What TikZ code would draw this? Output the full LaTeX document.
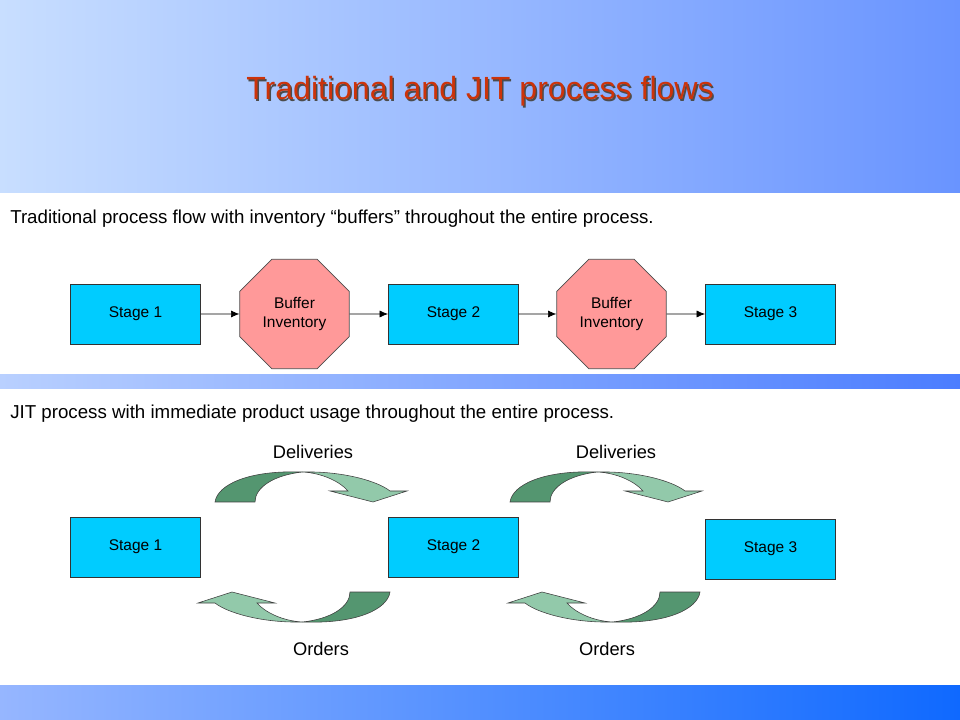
\documentclass[tikz,border=0pt]{standalone}
\usepackage{fontspec}
\setmainfont{Liberation Sans}
\usepackage{tikz}
\usetikzlibrary{shapes.geometric,arrows.meta}

\definecolor{titlered}{RGB}{204,51,10}
\definecolor{stagecyan}{RGB}{0,204,255}
\definecolor{bufferpink}{RGB}{255,153,153}
\definecolor{ribbondark}{RGB}{84,150,112}
\definecolor{ribbonlight}{RGB}{146,201,170}

% one curved ribbon arrow: #1 = centre, #2 = rotation
\newcommand{\jitribbon}[2]{%
	\begin{scope}[shift={#1}, rotate=#2]
		\filldraw[ribbon dark] (-87.5,-45) .. controls (-85,-62) and (-55,-77) .. (0,-75)
			.. controls (-28,-72) and (-47.5,-60) .. (-47.5,-45) -- cycle;
		\filldraw[ribbon light] (0,-75) .. controls (40,-76) and (75,-66) .. (87.5,-56)
			-- (104.5,-56) -- (70.5,-45) -- (27.5,-56) -- (45.5,-56)
			.. controls (38,-65) and (20,-74) .. (0,-75) -- cycle;
	\end{scope}}

\begin{document}
\begin{tikzpicture}[x=0.025cm, y=-0.025cm,
	stagebox/.style={draw=black!80, line width=0.6pt, fill=stagecyan, minimum width=3.25cm, minimum height=1.5cm, font=\fontsize{11}{13}\selectfont},
	buffer/.style={regular polygon, regular polygon sides=8, draw=black!70, line width=0.5pt, fill=bufferpink, minimum size=2.96cm, inner sep=0pt, align=center, font=\fontsize{11}{13}\selectfont},
	flow/.style={black, line width=0.5pt, -{Latex[length=6pt,width=5pt]}},
	caption/.style={anchor=base west, inner sep=0pt, font=\fontsize{13.3}{15}\selectfont},
	label/.style={anchor=base, inner sep=0pt, font=\fontsize{13}{15}\selectfont},
	ribbon dark/.style={fill=ribbondark, draw=black!75, line width=0.4pt},
	ribbon light/.style={fill=ribbonlight, draw=black!75, line width=0.4pt}]
	\useasboundingbox (0,0) rectangle (960,720);
	\fill[white] (0,0) rectangle (960,720);
	
	% bands
	\shade[left color={rgb,255:red,200;green,222;blue,255}, right color={rgb,255:red,105;green,148;blue,255}] (0,0) rectangle (960,193);
	\shade[left color={rgb,255:red,185;green,208;blue,255}, right color={rgb,255:red,75;green,125;blue,255}] (0,375) rectangle (960,389);
	\shade[left color={rgb,255:red,150;green,182;blue,255}, right color={rgb,255:red,15;green,105;blue,255}] (0,685) rectangle (960,720);
	
	% title
	\node[anchor=base, inner sep=0pt, text=black!70, font=\fontsize{22.8}{27}\selectfont] (titleshadow) at (481.5,101.5) {Traditional and JIT process flows};
	\node[anchor=base, inner sep=0pt, text=titlered, font=\fontsize{22.8}{27}\selectfont] (title) at (480,100) {Traditional and JIT process flows};
	
	% traditional flow
	\node[caption] (tradtext) at (10,224) {Traditional process flow with inventory “buffers” throughout the entire process.};
	\node[stagebox] (t1) at (135.5,314) {Stage 1};
	\node[buffer] (b1) at (294.5,314) {Buffer\\Inventory};
	\node[stagebox] (t2) at (453.5,314) {Stage 2};
	\node[buffer] (b2) at (611.5,314) {Buffer\\Inventory};
	\node[stagebox] (t3) at (770.5,314) {Stage 3};
	\draw[flow] (t1) -- (b1);
	\draw[flow] (b1) -- (t2);
	\draw[flow] (t2) -- (b2);
	\draw[flow] (b2) -- (t3);
	
	% JIT flow
	\node[caption] (jittext) at (10,419) {JIT process with immediate product usage throughout the entire process.};
	\node[stagebox] (j1) at (135.5,547) {Stage 1};
	\node[stagebox] (j2) at (453.5,547) {Stage 2};
	\node[stagebox] (j3) at (770.5,549) {Stage 3};
	
	\jitribbon{(302.5,547)}{0}
	\jitribbon{(302.5,547)}{180}
	\jitribbon{(597.5,547)}{0}
	\jitribbon{(612.5,547)}{180}
	
	\node[label] (del1) at (313,459) {Deliveries};
	\node[label] (del2) at (616,459) {Deliveries};
	\node[label] (ord1) at (321,655) {Orders};
	\node[label] (ord2) at (607,655) {Orders};
\end{tikzpicture}
\end{document}
